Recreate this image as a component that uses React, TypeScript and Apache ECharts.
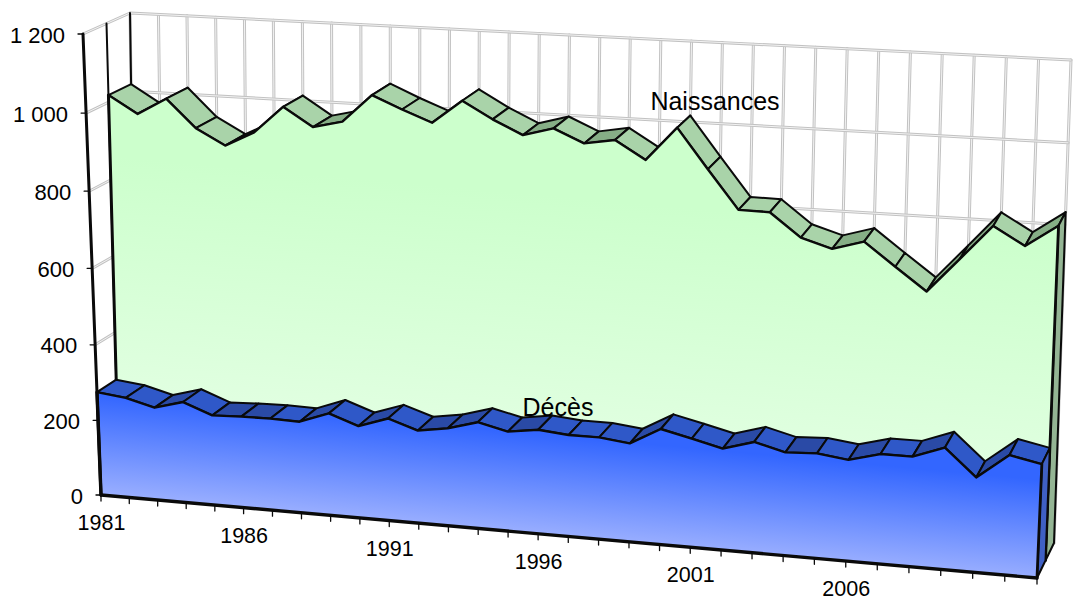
import React, { useEffect, useRef } from "react";
import * as echarts from "echarts";

const years = Array.from({ length: 32 }, (_, i) => String(1981 + i));
const xTickLabels = ["1981", "1986", "1991", "1996", "2001", "2006"];
const naissances = [1018, 974, 1017, 946, 906, 944, 1013, 966, 984, 1055, 1023, 994, 1053, 1011, 976, 997, 964, 977, 932, 1016, 918, 822, 821, 763, 740, 763, 706, 650, 735, 821, 777, 831];
const deces = [275, 266, 246, 267, 238, 241, 242, 240, 268, 241, 267, 242, 254, 276, 258, 269, 262, 262, 253, 296, 278, 259, 282, 262, 266, 256, 277, 277, 306, 238, 300, 284];
const yTicks = [0, 200, 400, 600, 800, 1000, 1200];
const yTickLabels = ["0", "200", "400", "600", "800", "1 000", "1 200"];

const W = 1073;
const H = 601;
const LAST = years.length - 1;
const V_MAX = 1200;
const FONT = '"Liberation Sans", Arial, sans-serif';

type Pt = [number, number];
const FBL: Pt = [101, 495], FBR: Pt = [1037, 578], FTL: Pt = [83, 34], FTR: Pt = [1058, 84];
const BBL: Pt = [137, 469], BBR: Pt = [1054, 543], BTL: Pt = [130, 13], BTR: Pt = [1071, 60];

const warp = (s: number, r: number) => s / (s + (1 - s) * r);
const lerp = (a: Pt, b: Pt, k: number): Pt => [a[0] + (b[0] - a[0]) * k, a[1] + (b[1] - a[1]) * k];

// Turns a grid pixel from the chart's own scales into the oblique 3D box; d is depth 0..1
function box(px: Pt, d: number): Pt {
  const ft = warp(px[0] / W, 1.07);
  const fv = warp((H - px[1]) / H, 1.035);
  const bottom = lerp(lerp(FBL, FBR, ft), lerp(BBL, BBR, ft), d);
  const top = lerp(lerp(FTL, FTR, ft), lerp(BTL, BTR, ft), d);
  return lerp(bottom, top, fv);
}

const INK = "#0a0a0a";

function poly(points: Pt[], fill: any, stroke?: string, lineWidth = 2) {
  return {
    type: "polygon",
    silent: true,
    shape: { points },
    style: { fill, stroke: stroke ?? "none", lineWidth, lineJoin: "round" },
  };
}
function pline(points: Pt[], stroke: string, lineWidth: number) {
  return {
    type: "polyline",
    silent: true,
    shape: { points },
    style: { fill: "none", stroke, lineWidth, lineJoin: "round", lineCap: "round" },
  };
}
function doubleLine(points: Pt[]) {
  return [pline(points, "#c2c2c2", 3), pline(points, "#f2f2f2", 1)];
}
function label(text: string, x: number, y: number, align: string, size: number) {
  return {
    type: "text",
    silent: true,
    x,
    y,
    style: { text, fill: "#000", font: `${size}px ${FONT}`, align, verticalAlign: "middle" },
  };
}

function wallRender(_: any, api: any) {
  const kids: any[] = [];
  years.forEach((_y, i) => {
    kids.push(...doubleLine([box(api.coord([i, 0]), 1), box(api.coord([i, V_MAX]), 1)]));
  });
  yTicks.forEach((v) => {
    kids.push(...doubleLine([box(api.coord([0, v]), 0), box(api.coord([0, v]), 1), box(api.coord([LAST, v]), 1)]));
  });
  kids.push(pline([box(api.coord([0, 0]), 0.5), box(api.coord([0, V_MAX]), 0.5)], INK, 2));
  kids.push(pline([box(api.coord([0, 0]), 1), box(api.coord([0, V_MAX]), 1)], INK, 2));
  return { type: "group", children: kids };
}

function ribbonRender(values: number[], d0: number, d1: number, light: string, dark: string, side: string) {
  return (params: any, api: any) => {
    const i = params.dataIndex;
    const kids: any[] = [];
    const v = api.value(1);
    const here = api.coord([i, v]);
    if (i < LAST) {
      const next = api.coord([i + 1, values[i + 1]]);
      const rising = values[i + 1] > v;
      kids.push(poly([box(here, d0), box(next, d0), box(next, d1), box(here, d1)], rising ? dark : light, INK, 2));
    } else {
      const base = api.coord([i, 0]);
      kids.push(poly([box(here, d0), box(here, d1), box(base, d1), box(base, d0)], side, INK, 2));
    }
    return { type: "group", children: kids };
  };
}

function frontRender(values: number[], d: number, fill: any, edge: number) {
  return (params: any, api: any) => {
    if (params.dataIndex !== 0) return null;
    const topLine = values.map((v, i) => box(api.coord([i, v]), d));
    const bl = box(api.coord([0, 0]), d);
    const br = box(api.coord([LAST, 0]), d);
    return {
      type: "group",
      children: [
        poly([...topLine, br, bl], fill),
        pline(topLine, INK, 2.4),
        pline([topLine[0], bl], INK, edge),
        pline([topLine[LAST], br], INK, 2.8),
      ],
    };
  };
}

function xAxisRender(params: any, api: any) {
  const i = params.dataIndex;
  const p = box(api.coord([i, 0]), 0);
  const kids: any[] = [pline([p, [p[0], p[1] + 6]], INK, 1.3)];
  if (i === 0) kids.push(pline([box(api.coord([0, 0]), 0), box(api.coord([LAST, 0]), 0)], INK, 3.4));
  if (xTickLabels.includes(years[i])) kids.push(label(years[i], p[0] + 0.5, p[1] + 28, "center", 21.5));
  return { type: "group", children: kids };
}

function yAxisRender(params: any, api: any) {
  const i = params.dataIndex;
  const p = box(api.coord([0, yTicks[i]]), 0);
  const kids: any[] = [pline([[p[0] - 5, p[1]], p], INK, 1.3)];
  if (i === 0) kids.push(pline([box(api.coord([0, 0]), 0), box(api.coord([0, V_MAX]), 0)], INK, 3));
  kids.push(label(yTickLabels[i], p[0] - 18, p[1] + 1, "right", 22));
  return { type: "group", children: kids };
}

export default function App() {
  const ref = useRef<HTMLDivElement>(null);
  useEffect(() => {
    document.body.style.margin = "0";
    const chart = echarts.init(ref.current!, undefined, { renderer: "svg" });
    const blue = new echarts.graphic.LinearGradient(570, 437, 561, 536, [
      { offset: 0, color: "#3366FF" },
      { offset: 1, color: "#99AEFF" },
    ], true);
    const green = new echarts.graphic.LinearGradient(600, 200, 573, 500, [
      { offset: 0, color: "#CCFFCC" },
      { offset: 1, color: "#E6FFE6" },
    ], true);
    const toData = (a: number[]) => a.map((v, i) => [i, v]);
    const custom = (name: string, z: number, data: any[], renderItem: any) => ({
      type: "custom",
      name,
      z,
      data,
      renderItem,
      clip: false,
      silent: true,
      encode: { x: 0, y: 1 },
    });
    chart.setOption({
      animation: false,
      backgroundColor: "#fff",
      grid: { left: 0, top: 0, width: W, height: H },
      xAxis: { type: "value", min: 0, max: LAST, show: false },
      yAxis: { type: "value", min: 0, max: V_MAX, show: false },
      series: [
        custom("Parois", 1, [[0, 0]], wallRender),
        custom("Naissances", 2, toData(naissances), ribbonRender(naissances, 0.5, 1, "#A9D3A9", "#86AE86", "#94B594")),
        custom("Naissances", 3, toData(naissances), frontRender(naissances, 0.5, green, 3)),
        custom("Décès", 4, toData(deces), ribbonRender(deces, 0, 0.5, "#2F58C8", "#2A4AA6", "#3F60C4")),
        custom("Décès", 5, toData(deces), frontRender(deces, 0, blue, 3.4)),
        custom("Axe X", 6, years.map((_y, i) => [i, 0]), xAxisRender),
        custom("Axe Y", 6, yTicks.map((v) => [0, v]), yAxisRender),
      ],
      graphic: [
        { type: "text", z: 10, x: 715, y: 101, style: { text: "Naissances", fill: "#000", font: `25px ${FONT}`, align: "center", verticalAlign: "middle" } },
        { type: "text", z: 10, x: 558, y: 407, style: { text: "Décès", fill: "#000", font: `25px ${FONT}`, align: "center", verticalAlign: "middle" } },
      ],
    });
    return () => chart.dispose();
  }, []);
  return <div ref={ref} style={{ width: W, height: H, overflow: "hidden" }} />;
}
